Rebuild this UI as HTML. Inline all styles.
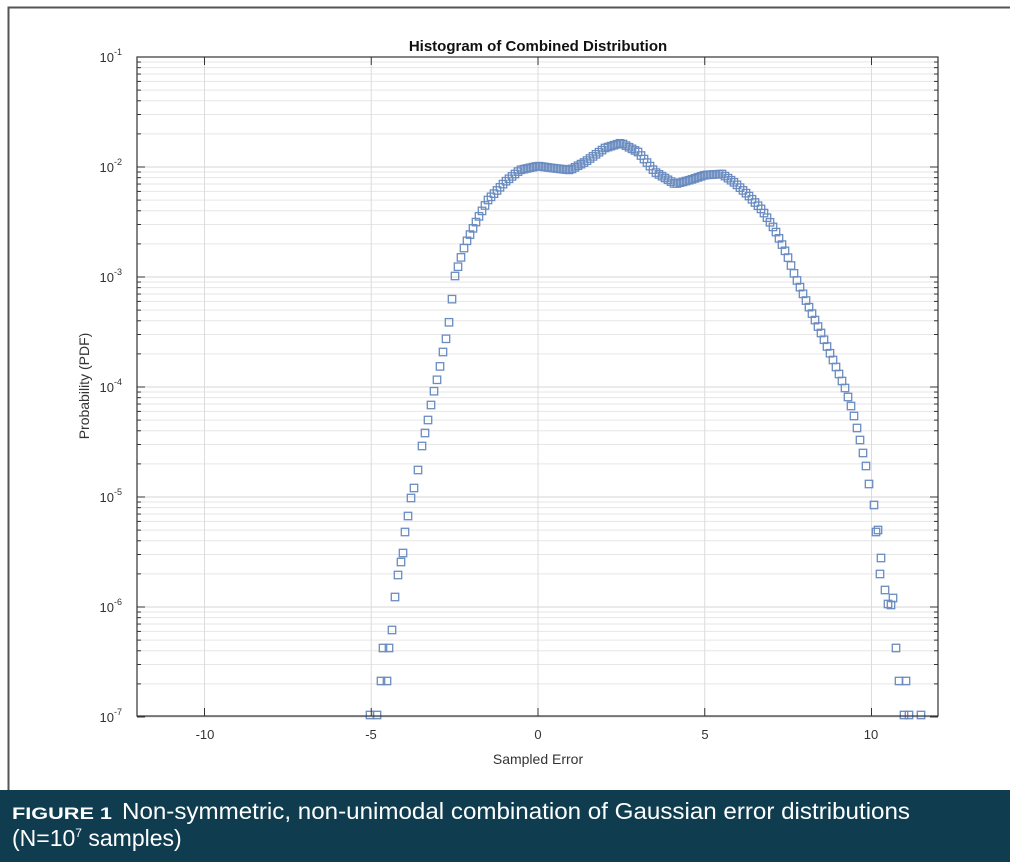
<!DOCTYPE html>
<html><head><meta charset="utf-8"><style>
html,body{margin:0;padding:0;background:#fff;width:1010px;height:862px;overflow:hidden}
svg{display:block}
</style></head><body>
<svg id="s" width="1010" height="862" xmlns="http://www.w3.org/2000/svg" font-family="Liberation Sans, sans-serif">
<rect x="0" y="0" width="1010" height="862" fill="#fff"/>
<rect x="8.5" y="7.5" width="1010" height="785" fill="none" stroke="#555" stroke-width="2"/>
<rect x="137" y="57" width="801" height="659" fill="#fff"/>
<g id="grid"></g>
<g id="pts" fill="none" stroke="#6a8cc0" stroke-width="1.3"></g>
<rect x="137" y="57" width="801" height="659" fill="none" stroke="#333" stroke-width="1.2"/>
<g id="ticks" stroke="#333" stroke-width="1"></g>
<text x="538" y="51" text-anchor="middle" font-size="15" font-weight="bold" fill="#111">Histogram of Combined Distribution</text>
<g font-size="13" fill="#333" text-anchor="middle">
<text x="205" y="739">-10</text><text x="371" y="739">-5</text><text x="538" y="739">0</text><text x="705" y="739">5</text><text x="871" y="739">10</text>
</g>
<text x="538" y="764" text-anchor="middle" font-size="14" fill="#333">Sampled Error</text>
<text transform="translate(89,386) rotate(-90)" text-anchor="middle" font-size="14" fill="#333">Probability (PDF)</text>
<g id="ylab" font-size="13" fill="#333" text-anchor="end"></g>
<rect x="0" y="790" width="1010" height="72" fill="#0f3d4f"/>
<text x="12" y="819" font-size="17" font-weight="bold" fill="#fff" textLength="100" lengthAdjust="spacingAndGlyphs">FIGURE 1</text>
<text x="122" y="819" font-size="23" fill="#fff" textLength="788" lengthAdjust="spacingAndGlyphs">Non-symmetric, non-unimodal combination of Gaussian error distributions</text>
<text x="12" y="846" font-size="23" fill="#fff">(N=10<tspan font-size="12" dy="-9">7</tspan><tspan dy="9"> samples)</tspan></text>
</svg>
<script>
var NS="http://www.w3.org/2000/svg";
function el(p,t,a){var e=document.createElementNS(NS,t);for(var k in a)e.setAttribute(k,a[k]);p.appendChild(e);return e;}
var g=document.getElementById('grid'),tk=document.getElementById('ticks'),yl=document.getElementById('ylab');
function Y(l){return 57+(-1-l)*110;}
for(var d=-7;d<=-2;d++){for(var m=2;m<=9;m++){var y=Y(d+Math.log10(m));el(g,'line',{x1:137,x2:938,y1:y,y2:y,stroke:'#e6e6e6','stroke-width':1});
el(tk,'line',{x1:137,x2:141,y1:y,y2:y});el(tk,'line',{x1:934,x2:938,y1:y,y2:y});}}
for(var d=-7;d<=-1;d++){var y=Y(d);el(g,'line',{x1:137,x2:938,y1:y,y2:y,stroke:'#d6d6d6','stroke-width':1});
el(tk,'line',{x1:137,x2:145,y1:y,y2:y});el(tk,'line',{x1:930,x2:938,y1:y,y2:y});
var t=el(yl,'text',{x:122,y:y+5});t.textContent='10';var s=el(t,'tspan',{dy:-7,'font-size':9});s.textContent=String(d);}
[-10,-5,0,5,10].forEach(function(v){var x=538+v*33.35;el(g,'line',{x1:x,x2:x,y1:57,y2:716,stroke:'#dcdcdc','stroke-width':1});
el(tk,'line',{x1:x,x2:x,y1:57,y2:65});el(tk,'line',{x1:x,x2:x,y1:708,y2:716});});
var P=document.getElementById('pts');
function sq(x,y){el(P,'rect',{x:x-3.7,y:y-3.7,width:7.4,height:7.4});}
[[370,715],[377,715],[381,681],[387,681],[383,648],[389,648],[392,630],[395,597],[398,575],[401,562],[403,553],[405,532],[408,516],[411,498],[414,488],[418,470],[422,446]].forEach(function(p){sq(p[0],p[1]);});
var C=[[422,446],[428,420],[433,395],[438,376],[443,352],[448,330],[455,276],[465,245],[477,220],[488,200],[505,182],[520,170],[538,166],[552,168],[570,170],[585,162],[605,148],[621,143],[638,152],[655,172],[675,184],[690,180],[705,175],[722,174],[735,183],[748,195],[762,210],[775,230],[787,255],[795,276],[808,305],[821,333],[833,360],[845,388],[853,412],[860,440],[866,466],[871,496]];
for(var x=425;x<=871;x+=3.0){var i=0;while(i<C.length-2&&C[i+1][0]<x)i++;var a=C[i],b=C[i+1],t=(x-a[0])/(b[0]-a[0]);sq(x,a[1]+t*(b[1]-a[1]));}
[[874,505],[876,532],[878,530],[881,558],[880,574],[885,590],[888,604],[893,598],[891,605],[896,648],[899,681],[906,681],[904,715],[909,715],[921,715]].forEach(function(p){sq(p[0],p[1]);});
</script>
</body></html>
